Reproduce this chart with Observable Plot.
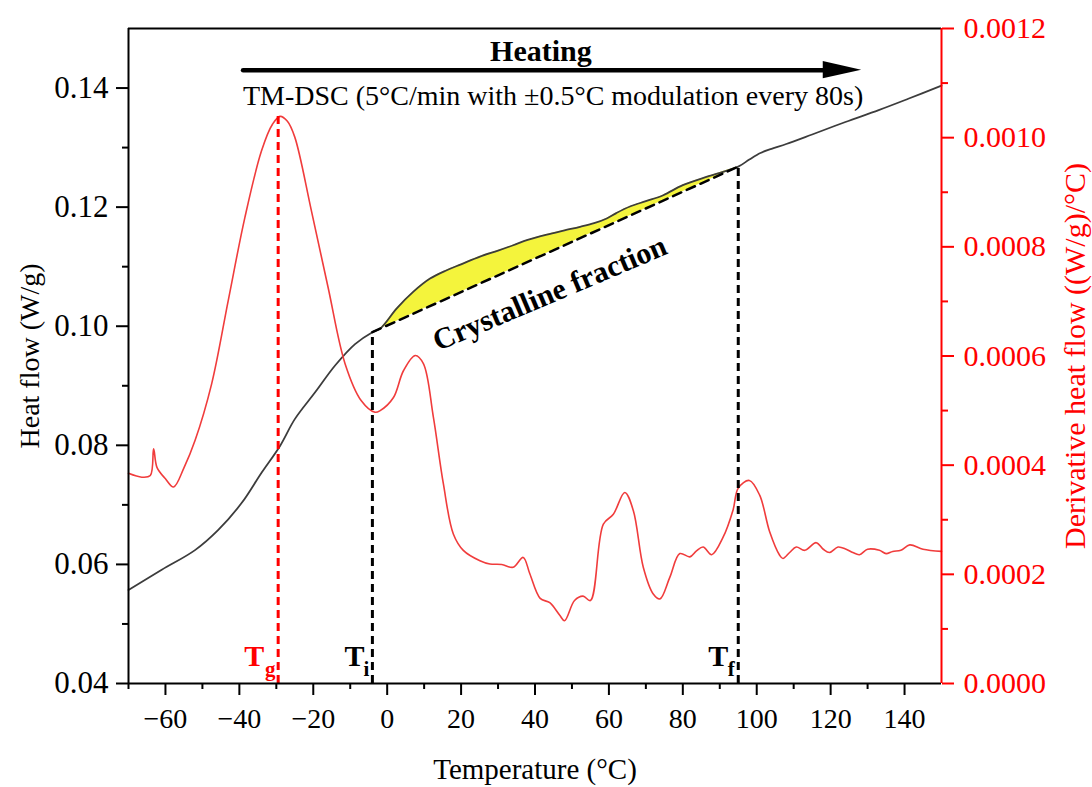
<!DOCTYPE html>
<html>
<head>
<meta charset="utf-8">
<script src="https://cdn.jsdelivr.net/npm/d3@7"></script>
<script src="https://cdn.jsdelivr.net/npm/@observablehq/plot@0.6"></script>
<style>
  html, body { margin: 0; padding: 0; background: #fff; }
  #chart svg { display: block; }
</style>
</head>
<body>
<div id="chart"></div>
<script>
// ---------- Data ----------
// Heat flow curve (W/g) vs temperature (°C)
const hfT = [-70, -61, -52, -45.7, -39.4, -34, -29, -25, -19.5, -14.1, -8.7, -4, -1.9, 2.6, 7.1, 11.6, 16.1, 20, 25.1, 30, 34.1, 38, 43.2, 48, 52.2, 56, 59.4, 62, 65.7, 70, 74.7, 80, 87, 95, 98, 101, 104, 108, 115, 124, 133, 141, 150];
const hfV = [0.0557, 0.0591, 0.0624, 0.0658, 0.0703, 0.0754, 0.0799, 0.0844, 0.0889, 0.0934, 0.0970, 0.0990, 0.0996, 0.1030, 0.1058, 0.1080, 0.1094, 0.1104, 0.1117, 0.1127, 0.1136, 0.1145, 0.1154, 0.1161, 0.1167, 0.1173, 0.1181, 0.1190, 0.1201, 0.1210, 0.1220, 0.1237, 0.1252, 0.1268, 0.1280, 0.1291, 0.1298, 0.1306, 0.1322, 0.1343, 0.1363, 0.1382, 0.1404];

// Derivative heat flow ((W/g)/°C) vs temperature (°C)
const dT = [-70, -66.4, -64.1, -63.2, -62.3, -60, -57.8, -55, -52, -47.5, -43, -38.5, -34, -31, -29, -27, -25, -20.5, -16, -11.4, -7, -3.3, -1.9, 1.7, 4.4, 7.6, 9.8, 12.5, 15.2, 17.9, 20.6, 25.1, 27.8, 31, 34.1, 36.8, 38.6, 41.4, 44, 46.7, 48, 50.7, 53, 55, 58.5, 61.2, 64.3, 66.6, 69.3, 72, 73.8, 76.5, 79.2, 81.9, 83.7, 85.5, 87.8, 90.9, 93.6, 95, 98, 100.8, 103.5, 106.2, 107.1, 108.9, 110.7, 113, 116.1, 118, 119.7, 122, 124.2, 126, 127.8, 130, 133.2, 135, 136.8, 139, 141.4, 145, 150];
const dV = [0.000385, 0.000378, 0.000381, 0.000430, 0.000396, 0.000375, 0.000360, 0.000395, 0.000445, 0.000549, 0.000702, 0.000854, 0.000976, 0.001025, 0.001039, 0.001030, 0.001001, 0.000866, 0.000726, 0.000586, 0.000518, 0.000497, 0.000500, 0.000524, 0.000573, 0.000601, 0.000586, 0.000488, 0.000366, 0.000274, 0.000244, 0.000225, 0.000219, 0.000218, 0.000213, 0.000231, 0.000201, 0.000156, 0.000148, 0.000125, 0.000115, 0.000152, 0.000160, 0.000152, 0.000292, 0.000310, 0.000350, 0.000317, 0.000213, 0.000164, 0.000155, 0.000195, 0.000238, 0.000232, 0.000243, 0.000250, 0.000236, 0.000268, 0.000318, 0.000358, 0.000372, 0.000345, 0.000278, 0.000235, 0.000229, 0.000240, 0.000250, 0.000244, 0.000258, 0.000246, 0.000240, 0.000250, 0.000246, 0.000240, 0.000236, 0.000246, 0.000244, 0.000238, 0.000242, 0.000244, 0.000254, 0.000246, 0.000242];

// Characteristic temperatures
const markerNames = ["g", "i", "f"];
const markerT = [-29.5, -4, 95];

// Axis ticks
const xMajor = [-60, -40, -20, 0, 20, 40, 60, 80, 100, 120, 140];
const xMinor = [-70, -50, -30, -10, 10, 30, 50, 70, 90, 110, 130];
const yMajor = [0.04, 0.06, 0.08, 0.10, 0.12, 0.14];
const yMinor = [0.05, 0.07, 0.09, 0.11, 0.13];
const rMajor = [0, 0.0002, 0.0004, 0.0006, 0.0008, 0.0010, 0.0012];
const rMinor = [0.0001, 0.0003, 0.0005, 0.0007, 0.0009, 0.0011];

// Annotation anchors (data coordinates)
const arrowT = [-39, 118, 128.4];
const arrowHF = 0.143;

// ---------- Helpers ----------
const yDom = [0.04, 0.15], rDom = [0, 0.0012];
const toLeft = d => yDom[0] + (d - rDom[0]) / (rDom[1] - rDom[0]) * (yDom[1] - yDom[0]);
const fromLeft = v => rDom[0] + (v - yDom[0]) / (yDom[1] - yDom[0]) * (rDom[1] - rDom[0]);

const hfData = hfT.map((T, i) => ({T, v: hfV[i]}));
const dData = dT.map((T, i) => ({T, v: toLeft(dV[i])}));
const hfAt = T => hfV[hfT.indexOf(T)];

const Ti = markerT[1], Tf = markerT[2];
const base = d3.scaleLinear().domain([Ti, Tf]).range([hfAt(Ti), hfAt(Tf)]);
const fillData = hfData.filter(d => d.T >= Ti && d.T <= Tf).map(d => ({T: d.T, lo: base(d.T), hi: Math.max(d.v, base(d.T))}));
const baselineData = [{T: Ti, v: hfAt(Ti)}, {T: Tf, v: hfAt(Tf)}];

const markerTop = [toLeft(d3.max(dV)), hfAt(Ti), hfAt(Tf)];
const markerColor = ["#ff0000", "#000000", "#000000"];
const tDx = [-24, -18, -20];
const sDx = [-8, -6, -7];

const fmtX = d => d < 0 ? "\u2212" + Math.abs(d) : String(d);
const FONT = "'Liberation Serif','Times New Roman',Times,serif";

const headH = 0.00145;
const arrowHead = [
  {T: arrowT[1], lo: arrowHF - headH, hi: arrowHF + headH},
  {T: arrowT[2], lo: arrowHF, hi: arrowHF}
];

const markerMarks = markerNames.flatMap((n, i) => [
  Plot.ruleX([markerT[i]], {y1: 0.04, y2: markerTop[i], stroke: markerColor[i], strokeWidth: 3, strokeDasharray: "8,5"}),
  Plot.text(["T"], {x: markerT[i], y: 0.04, dx: tDx[i], dy: -27, fill: markerColor[i], fontWeight: "bold", fontSize: 30, textAnchor: "middle", lineAnchor: "middle"}),
  Plot.text([n], {x: markerT[i], y: 0.04, dx: sDx[i], dy: -14, fill: markerColor[i], fontWeight: "bold", fontSize: 21, textAnchor: "middle", lineAnchor: "middle"})
]);

const chart = Plot.plot({
  width: 1092,
  height: 787,
  marginLeft: 128,
  marginRight: 151,
  marginTop: 28,
  marginBottom: 104,
  style: {fontFamily: FONT, background: "#fff", color: "#000", overflow: "visible"},
  x: {domain: [-70, 150], axis: null},
  y: {domain: yDom, axis: null},
  marks: [
    Plot.areaY(fillData, {x: "T", y1: "lo", y2: "hi", fill: "#f4f43c", curve: "catmull-rom"}),
    Plot.line(hfData, {x: "T", y: "v", stroke: "#3c3c3c", strokeWidth: 1.8, curve: "catmull-rom"}),
    Plot.line(baselineData, {x: "T", y: "v", stroke: "#000", strokeWidth: 2.5, strokeDasharray: "9,6"}),
    Plot.line(dData, {x: "T", y: "v", stroke: "#f03c3c", strokeWidth: 1.6, curve: "catmull-rom"}),
    ...markerMarks,
    // Heating arrow
    Plot.line([{T: arrowT[0], v: arrowHF}, {T: arrowT[1] + 1, v: arrowHF}], {x: "T", y: "v", stroke: "#000", strokeWidth: 4.5}),
    Plot.areaY(arrowHead, {x: "T", y1: "lo", y2: "hi", fill: "#000"}),
    Plot.text(["Heating"], {x: 41.6, y: 0.1461, fontWeight: "bold", fontSize: 30}),
    Plot.text(["TM-DSC (5°C/min with ±0.5°C modulation every 80s)"], {x: 44.9, y: 0.1386, fontSize: 28}),
    Plot.text(["Crystalline fraction"], {x: 44, y: 0.1055, rotate: -23, fontWeight: "bold", fontSize: 30}),
    // Frame
    Plot.ruleY([0.15], {stroke: "#000", strokeWidth: 2}),
    Plot.ruleY([0.04], {stroke: "#000", strokeWidth: 2}),
    Plot.ruleX([-70], {stroke: "#000", strokeWidth: 2}),
    Plot.ruleX([150], {stroke: "#ff0000", strokeWidth: 2}),
    // Axes
    Plot.axisX({ticks: xMajor, anchor: "bottom", label: null, tickSize: 12, tickPadding: 13, fontSize: 28, tickFormat: fmtX, strokeWidth: 2}),
    Plot.axisX({ticks: xMinor, anchor: "bottom", label: null, tickSize: 6, tickFormat: () => "", strokeWidth: 2}),
    Plot.axisY({ticks: yMajor, anchor: "left", label: null, tickSize: 12, tickPadding: 8, fontSize: 31, tickFormat: d => d.toFixed(2), strokeWidth: 2}),
    Plot.axisY({ticks: yMinor, anchor: "left", label: null, tickSize: 6, tickFormat: () => "", strokeWidth: 2}),
    Plot.axisY({ticks: rMajor.map(toLeft), anchor: "right", label: null, tickSize: 12, tickPadding: 10, fontSize: 30, color: "#ff0000", strokeWidth: 2,
      tickFormat: v => (Math.round(fromLeft(v) * 1e4) / 1e4).toFixed(4)}),
    Plot.axisY({ticks: rMinor.map(toLeft), anchor: "right", label: null, tickSize: 6, color: "#ff0000", strokeWidth: 2, tickFormat: () => ""}),
    // Axis titles
    Plot.text(["Temperature (°C)"], {frameAnchor: "bottom", dy: 86, fontSize: 29, textAnchor: "middle", lineAnchor: "middle"}),
    Plot.text(["Heat flow (W/g)"], {frameAnchor: "left", dx: -98, rotate: -90, fontSize: 28, textAnchor: "middle", lineAnchor: "middle"}),
    Plot.text(["Derivative heat flow ((W/g)/°C)"], {frameAnchor: "right", dx: 134, rotate: -90, fontSize: 30, fill: "#ff0000", textAnchor: "middle", lineAnchor: "middle"})
  ]
});
document.getElementById("chart").appendChild(chart);
</script>
</body>
</html>
